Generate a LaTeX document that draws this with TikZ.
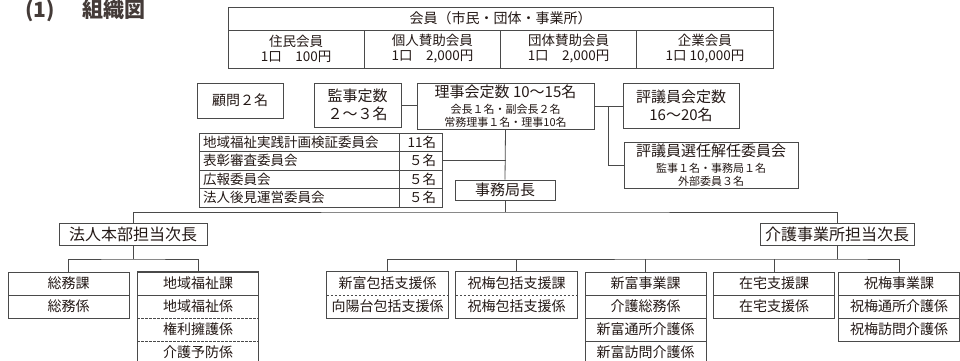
\documentclass[tikz,border=0pt]{standalone}
\usepackage{fontspec}
\setmainfont{Noto Sans CJK JP}
\definecolor{ink}{HTML}{231815}
\definecolor{rule}{HTML}{4A4A4A}
\newcommand{\fsz}[2]{\fontsize{#1}{#2}\selectfont}
\begin{document}
\begin{tikzpicture}[x=1pt,y=-1pt,
  box/.style={draw=rule,line width=.8pt,inner sep=0pt,align=center,text=ink},
  cell/.style={box,minimum width=121pt,minimum height=23pt,font=\fsz{14}{16}},
  cellin/.style={inner sep=0pt,minimum width=121pt,minimum height=23pt,font=\fsz{14}{16},text=ink},
  iin/.style={box,minimum height=18.5pt,inner xsep=4pt,font=\fsz{13.5}{15}},
  link/.style={draw=rule,line width=.8pt}]
\useasboundingbox (0,0) rectangle (960,360);
\node[anchor=base west,inner sep=0pt,font=\fsz{21}{21}\bfseries,text=ink!85] (title) at (25,17) {(1)\hspace{28pt}組織図};
% members
\node[box,minimum width=545pt,minimum height=23pt,font=\fsz{14}{16}] (kaiin) at (500.5,18.5) {会員（市民・団体・事業所）};
\node[box,minimum width=136.25pt,minimum height=38pt,font=\fsz{13.5}{15}] (jumin) at (296.1,49) {住民会員\\1口　100円};
\node[box,minimum width=136.25pt,minimum height=38pt,font=\fsz{13.5}{15}] (kojin) at (432.4,49) {個人賛助会員\\1口　2,000円};
\node[box,minimum width=136.25pt,minimum height=38pt,font=\fsz{13.5}{15}] (dantai) at (568.6,49) {団体賛助会員\\1口　2,000円};
\node[box,minimum width=136.25pt,minimum height=38pt,font=\fsz{13.5}{15}] (kigyo) at (704.9,49) {企業会員\\1口 10,000円};
% board
\node[box,minimum width=86pt,minimum height=35pt,font=\fsz{14}{16}] (komon) at (240,100.5) {顧問２名};
\node[box,minimum width=87pt,minimum height=44pt,font=\fsz{15}{18}] (kanji) at (357.5,105) {監事定数\\２～３名};
\node[box,minimum width=177pt,minimum height=46pt,font=\fsz{15}{13}] (rijikai) at (505.5,106) {理事会定数 10～15名\\[3pt]{\fsz{11}{12}会長１名・副会長２名}\\{\fsz{11}{12}常務理事１名・理事10名}};
\node[box,minimum width=116pt,minimum height=45pt,font=\fsz{15}{18}] (hyogi) at (681,106) {評議員会定数\\16～20名};
\node[box,minimum width=174pt,minimum height=46pt,font=\fsz{15}{13}] (senin) at (711,165) {評議員選任解任委員会\\[3pt]{\fsz{11}{12}監事１名・事務局１名}\\{\fsz{11}{12}外部委員３名}};
% committees
\node[iin,text width=192pt,align=left] (iin1) at (299,142.25) {地域福祉実践計画検証委員会};
\node[iin,text width=192pt,align=left] (iin2) at (299,160.75) {表彰審査委員会};
\node[iin,text width=192pt,align=left] (iin3) at (299,179.25) {広報委員会};
\node[iin,text width=192pt,align=left] (iin4) at (299,197.75) {法人後見運営委員会};
\node[iin,text width=31pt,inner xsep=6pt,align=right] (nin1) at (420.5,142.25) {11名};
\node[iin,text width=31pt,inner xsep=6pt,align=right] (nin2) at (420.5,160.75) {５名};
\node[iin,text width=31pt,inner xsep=6pt,align=right] (nin3) at (420.5,179.25) {５名};
\node[iin,text width=31pt,inner xsep=6pt,align=right] (nin4) at (420.5,197.75) {５名};
\node[box,minimum width=100pt,minimum height=20pt,font=\fsz{15}{16}] (jimu) at (505,190) {事務局長};
\node[box,minimum width=148pt,minimum height=22pt,font=\fsz{16}{17}] (hojin) at (133,234) {法人本部担当次長};
\node[box,minimum width=154pt,minimum height=22pt,font=\fsz{16}{17}] (kaigo) at (837,234) {介護事業所担当次長};
% sections
\node[cell] (soumu) at (68.5,283.5) {総務課};
\node[cell] (soumu2) at (68.5,306.5) {総務係};
\node[cell] (chiiki) at (198,283.5) {地域福祉課};
\node[cellin] (chiiki2) at (198,306.5) {地域福祉係};
\node[cellin] (chiiki3) at (198,329.5) {権利擁護係};
\node[cellin] (chiiki4) at (198,352.5) {介護予防係};
\draw[link] (chiiki.north west) rectangle (chiiki4.south east);
\draw[link,dash pattern=on 2.5pt off 1.5pt] (chiiki2.south west) -- (chiiki2.south east);
\draw[link,dash pattern=on 2.5pt off 1.5pt] (chiiki3.south west) -- (chiiki3.south east);
\node[cellin] (shinhou) at (387.5,283.5) {新富包括支援係};
\node[cellin] (shinhou2) at (387.5,306.5) {向陽台包括支援係};
\draw[link] (shinhou.north west) rectangle (shinhou2.south east);
\draw[link,dash pattern=on 2.5pt off 1.5pt] (shinhou.south west) -- (shinhou.south east);
\node[cellin] (iwahou) at (516.5,283.5) {祝梅包括支援課};
\node[cellin] (iwahou2) at (516.5,306.5) {祝梅包括支援係};
\draw[link] (iwahou.north west) rectangle (iwahou2.south east);
\draw[link,dash pattern=on 2.5pt off 1.5pt] (iwahou.south west) -- (iwahou.south east);
\node[cell] (shinjigyo) at (645.5,283.5) {新富事業課};
\node[cell] (shinjigyo2) at (645.5,306.5) {介護総務係};
\node[cell] (shinjigyo3) at (645.5,329.5) {新富通所介護係};
\node[cell] (shinjigyo4) at (645.5,352.5) {新富訪問介護係};
\node[cell] (zaitaku) at (774,283.5) {在宅支援課};
\node[cell] (zaitaku2) at (774,306.5) {在宅支援係};
\node[cell] (iwajigyo) at (899,283.5) {祝梅事業課};
\node[cell] (iwajigyo2) at (899,306.5) {祝梅通所介護係};
\node[cell] (iwajigyo3) at (899,329.5) {祝梅訪問介護係};
% lines
\draw[link] (kanji.east) -- (kanji.east -| rijikai.west);
\draw[link] (rijikai.east) -- (hyogi.west);
\coordinate (hbr) at (608,106);
\draw[link] (hbr) |- (senin.west);
\draw[link] (rijikai.south) -- (jimu.north);
\draw[link] (nin2.east) -- (nin2.east -| rijikai.south);
\coordinate (bus) at (505,212);
\draw[link] (jimu.south) -- (bus);
\draw[link] (hojin.north) |- (bus) -| (kaigo.north);
\coordinate (lbus) at (133,259);
\coordinate (rbus) at (837,259);
\draw[link] (hojin.south) -- (lbus);
\draw[link] (soumu.north) |- (lbus) -| (chiiki.north);
\draw[link] (kaigo.south) -- (rbus);
\draw[link] (shinhou.north) |- (rbus) -| (iwajigyo.north);
\draw[link] (iwahou.north) -- (iwahou.north |- rbus);
\draw[link] (shinjigyo.north) -- (shinjigyo.north |- rbus);
\draw[link] (zaitaku.north) -- (zaitaku.north |- rbus);
\end{tikzpicture}
\end{document}
